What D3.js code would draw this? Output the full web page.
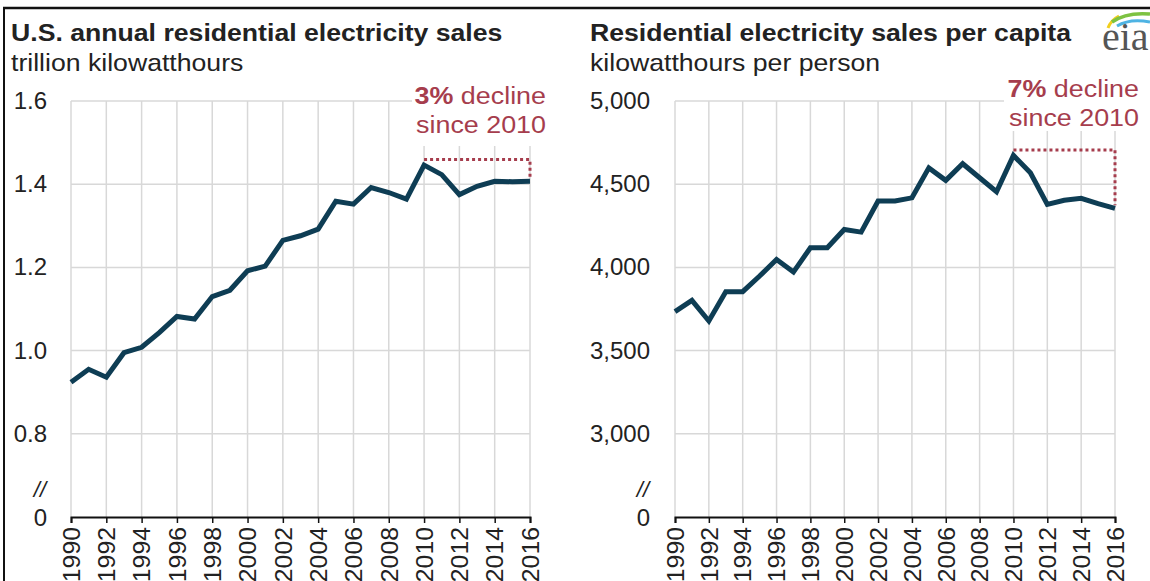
<!DOCTYPE html>
<html><head><meta charset="utf-8">
<script src="https://cdn.jsdelivr.net/npm/d3@7"></script>
<style>
html,body{margin:0;padding:0;background:#fff;}
svg{display:block;font-family:"Liberation Sans",Arial,sans-serif;}
</style></head>
<body>
<svg id="c" width="1150" height="581"></svg>
<script>
// ---- data ----
const years = [1990,1991,1992,1993,1994,1995,1996,1997,1998,1999,2000,2001,2002,2003,2004,2005,2006,2007,2008,2009,2010,2011,2012,2013,2014,2015,2016];
const salesTrillionKWh = [0.924,0.955,0.936,0.995,1.008,1.043,1.082,1.076,1.130,1.145,1.192,1.203,1.265,1.276,1.292,1.359,1.352,1.392,1.380,1.364,1.446,1.423,1.375,1.395,1.407,1.406,1.407];
const perCapitaKWh = [3734,3802,3678,3854,3854,3948,4048,3972,4118,4118,4228,4212,4399,4399,4418,4598,4523,4623,4539,4455,4673,4569,4379,4403,4415,4383,4355];
const xTickYears = [1990,1992,1994,1996,1998,2000,2002,2004,2006,2008,2010,2012,2014,2016];
const leftYTicks = [0.8,1.0,1.2,1.4,1.6];
const leftYLabels = ["0.8","1.0","1.2","1.4","1.6"];
const rightYTicks = [3000,3500,4000,4500,5000];
const rightYLabels = ["3,000","3,500","4,000","4,500","5,000"];
const leftTitle = "U.S. annual residential electricity sales";
const leftUnit = "trillion kilowatthours";
const rightTitle = "Residential electricity sales per capita";
const rightUnit = "kilowatthours per person";
const leftNote = ["3%", " decline", "since 2010"];
const rightNote = ["7%", " decline", "since 2010"];

const svg = d3.select("#c");
const LINE = "#0e3d54", GRID = "#d8d8d8", RED = "#a63d4d", TXT = "#222";

function txt(g, x, y, str, size, s, opts={}){
  const t = g.append("text").attr("transform",`translate(${x},${y}) scale(${s},1)`)
    .attr("font-size",size).attr("fill",opts.fill||TXT);
  if(opts.anchor) t.attr("text-anchor",opts.anchor);
  if(opts.weight) t.attr("font-weight",opts.weight);
  if(opts.style) t.attr("font-style",opts.style);
  if(str!==null) t.text(str);
  return t;
}

// frame
svg.append("line").attr("x1",3).attr("x2",1150).attr("y1",8).attr("y2",8).attr("stroke","#111").attr("stroke-width",2.5);
svg.append("line").attr("x1",4).attr("x2",4).attr("y1",7).attr("y2",581).attr("stroke","#111").attr("stroke-width",2);

function panel(o){
  const g = svg.append("g");
  const x = d3.scaleLinear().domain([1990,2016]).range(o.xr);
  const y = d3.scaleLinear().domain(o.yd).range([517,101]);
  // titles
  txt(g, o.tx, 41, o.title, 24, 1.11, {weight:"bold"});
  txt(g, o.tx, 71, o.unit, 24, 1.11);
  // grid
  g.selectAll(".hg").data(o.yt).join("line").attr("x1",o.xr[0]).attr("x2",o.xr[1])
    .attr("y1",d=>y(d)).attr("y2",d=>y(d)).attr("stroke",GRID).attr("stroke-width",1.5);
  g.selectAll(".vg").data(xTickYears).join("line").attr("x1",d=>x(d)).attr("x2",d=>x(d))
    .attr("y1",y(o.yd[1])).attr("y2",y(o.yd[0])).attr("stroke",GRID).attr("stroke-width",1.5);
  // y labels
  o.yt.forEach((d,i)=>txt(g, o.lx, y(d)+8, o.yl[i], 24, 1.0, {anchor:"end"}));
  txt(g, o.lx, y(o.yd[0])+9, "0", 24, 1.0, {anchor:"end"});
  txt(g, o.lx-1, y(o.yd[0])-20, "//", 22, 1.0, {anchor:"end", style:"italic"});
  // x axis
  const XS = 1.08;
  const ax = d3.axisBottom(x).tickValues(xTickYears).tickSize(6).tickFormat(d3.format("d"));
  const axg = g.append("g").attr("transform",`translate(0,${y(o.yd[0])})`).call(ax);
  axg.select(".domain").attr("stroke","#111").attr("stroke-width",2);
  axg.selectAll(".tick line").attr("stroke","#111").attr("stroke-width",1.5);
  axg.selectAll(".tick text").attr("font-size",23).attr("fill",TXT).attr("font-family","Liberation Sans, Arial, sans-serif")
    .attr("text-anchor","end").attr("transform",`rotate(-90) scale(${XS},1)`).attr("x",-10/XS).attr("y",0).attr("dy","0.36em");
  // annotation background + text
  const nx = o.noteX;
  g.append("rect").attr("x",o.boxX).attr("y",78).attr("width",nx-o.boxX+4).attr("height",o.boxB-78).attr("fill","#fff");
  const t1 = txt(g, nx, o.noteY, null, 24, 1.12, {anchor:"end", fill:RED});
  t1.append("tspan").attr("font-weight","bold").text(o.note[0]);
  t1.append("tspan").text(o.note[1]);
  txt(g, nx, o.noteY+29, o.note[2], 24, 1.12, {anchor:"end", fill:RED});
  // dotted bracket
  const i10 = years.indexOf(2010), iL = years.length-1;
  g.append("path").attr("d",`M${x(2010)},${y(o.vals[i10])-5.5}H${x(2016)}V${y(o.vals[iL])-3}`)
    .attr("fill","none").attr("stroke",RED).attr("stroke-width",3).attr("stroke-dasharray","3,3");
  // line
  g.append("path").datum(years.map((yr,i)=>[yr,o.vals[i]]))
    .attr("d",d3.line().x(d=>x(d[0])).y(d=>y(d[1])))
    .attr("fill","none").attr("stroke",LINE).attr("stroke-width",5).attr("stroke-linejoin","miter");
}

panel({xr:[71,530], yd:[0.6,1.6], yt:leftYTicks, yl:leftYLabels, vals:salesTrillionKWh,
  title:leftTitle, unit:leftUnit, tx:11, lx:47, note:leftNote, noteX:546, noteY:104, boxX:412, boxB:146});
panel({xr:[675,1115], yd:[2500,5000], yt:rightYTicks, yl:rightYLabels, vals:perCapitaKWh,
  title:rightTitle, unit:rightUnit, tx:590, lx:650, note:rightNote, noteX:1139, noteY:97, boxX:1004, boxB:131});

// eia logo
const logo = svg.append("g");
logo.append("path").attr("d","M1108,28 Q1111,20 1119,16").attr("fill","none").attr("stroke","#f2cf1d").attr("stroke-width",3);
logo.append("path").attr("d","M1112,22 Q1126,12 1150,14").attr("fill","none").attr("stroke","#7dc242").attr("stroke-width",3.5);
logo.append("path").attr("d","M1117,26 Q1130,18 1150,22").attr("fill","none").attr("stroke","#4eb3e3").attr("stroke-width",3);
logo.append("text").attr("x",1102).attr("y",50).attr("font-family","Liberation Serif, Times New Roman, serif").attr("font-size",40).attr("fill","#555").text("eia");
</script>
</body></html>
